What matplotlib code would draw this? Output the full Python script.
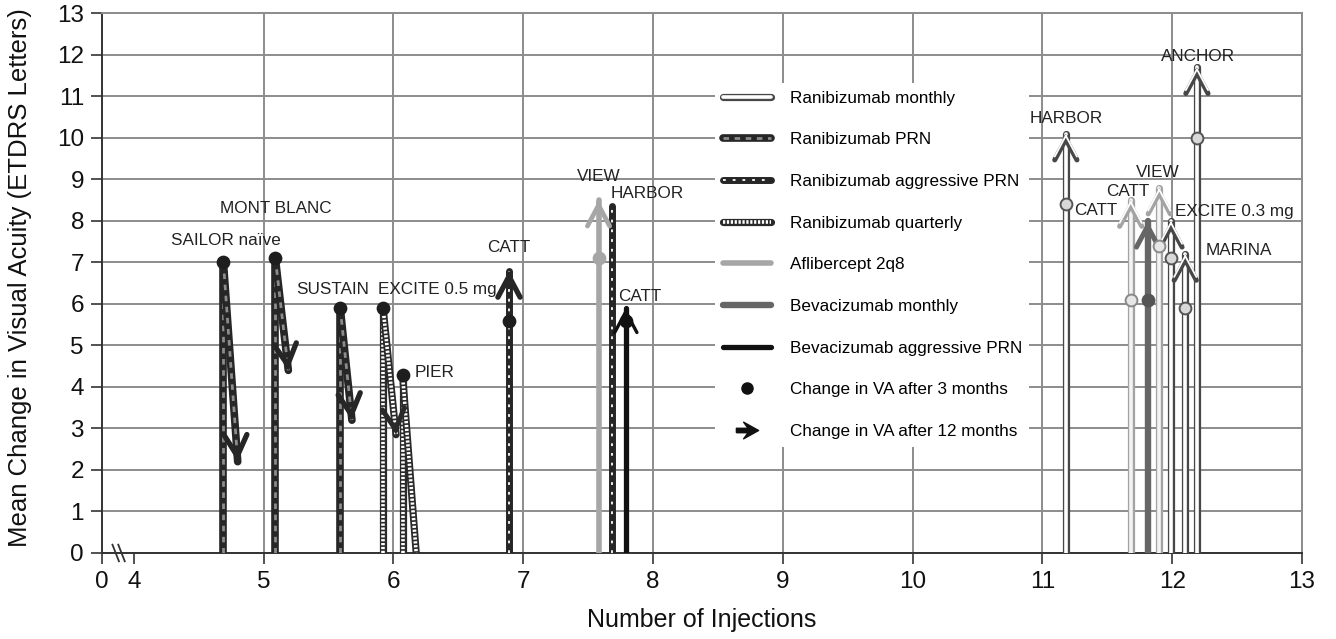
import matplotlib
matplotlib.use('Agg')
import matplotlib.pyplot as plt
from matplotlib.lines import Line2D
from matplotlib.legend_handler import HandlerTuple
from matplotlib.path import Path

plt.rcParams['font.family'] = ['Liberation Sans', 'DejaVu Sans']
plt.rcParams['lines.scale_dashes'] = False

# ---- data ----
studies = ['SAILOR naïve', 'MONT BLANC', 'SUSTAIN', 'EXCITE 0.5 mg', 'PIER', 'CATT',
           'VIEW', 'HARBOR', 'CATT', 'HARBOR', 'CATT', 'CATT', 'VIEW', 'EXCITE 0.3 mg',
           'MARINA', 'ANCHOR']
inj_3m = [4.69, 5.09, 5.59, 5.92, 6.07, 6.89, 7.58, 7.68, 7.79,
          11.18, 11.68, 11.81, 11.90, 11.99, 12.10, 12.19]
inj_12m = [4.80, 5.19, 5.68, 6.02, 6.18, 6.89, 7.58, 7.68, 7.79,
           11.18, 11.68, 11.81, 11.90, 11.99, 12.10, 12.19]
va_3m = [7.0, 7.1, 5.9, 5.9, 4.3, 5.6, 7.1, None, 5.6,
         8.4, 6.1, 6.1, 7.4, 7.1, 5.9, 10.0]
va_12m = [2.2, 4.4, 3.2, 2.85, -0.2, 6.8, 8.5, 8.35, 5.9,
          10.1, 8.5, 8.0, 8.8, 8.0, 7.2, 11.7]
regimen = ['prn', 'prn', 'prn', 'quarterly', 'quarterly', 'aggr', 'afl', 'aggr', 'bev_aggr',
           'monthly', 'monthly_light', 'bev_monthly', 'monthly_light', 'monthly', 'monthly', 'monthly']

# label placement (x, y, ha) in data units
label_pos = [(4.71, 7.54, 'center'), (5.09, 8.31, 'center'), (5.53, 6.36, 'center'),
             (5.88, 6.36, 'left'), (6.16, 4.34, 'left'), (6.89, 7.37, 'center'),
             (7.58, 9.08, 'center'), (7.67, 8.65, 'left'), (7.90, 6.17, 'center'),
             (11.18, 10.46, 'center'), (11.58, 8.24, 'right'), (11.66, 8.72, 'center'),
             (11.89, 9.16, 'center'), (12.02, 8.22, 'left'), (12.26, 7.30, 'left'),
             (12.20, 11.95, 'center')]

legend_keys = ['monthly', 'prn', 'aggr', 'quarterly', 'afl', 'bev_monthly', 'bev_aggr']
legend_names = ['Ranibizumab monthly', 'Ranibizumab PRN', 'Ranibizumab aggressive PRN',
                'Ranibizumab quarterly', 'Aflibercept 2q8', 'Bevacizumab monthly',
                'Bevacizumab aggressive PRN']

x_ticks = [3.754, 4, 5, 6, 7, 8, 9, 10, 11, 12, 13]
x_ticklabels = ['0', '4', '5', '6', '7', '8', '9', '10', '11', '12', '13']

# line layers: (colour, width, dashes), arrow head layers: (colour, width), dot (face, edge)
STYLES = {
    'monthly': dict(layers=[('#474747', 5.2, None), ('white', 2.6, None)],
                    head=[('#474747', 3.6), ('white', 1.3)], dot=('#d8d8d8', '#555555')),
    'monthly_light': dict(layers=[('#a3a3a3', 5.2, None), ('#f4f4f4', 2.6, None)],
                          head=[('#a3a3a3', 3.6), ('white', 1.3)], dot=('#e6e6e6', '#8a8a8a')),
    'prn': dict(layers=[('#262626', 5.5, None), ('#8c8c8c', 2.0, (4, 4))],
                head=[('#262626', 3.8)], dot=('#1e1e1e', '#1e1e1e')),
    'aggr': dict(layers=[('#262626', 5.0, None), ('white', 1.3, (2, 5))],
                 head=[('#262626', 3.8)], dot=('#1e1e1e', '#1e1e1e')),
    'quarterly': dict(layers=[('#2a2a2a', 5.2, None), ('white', 2.6, (1.6, 1.2))],
                      head=[('#2a2a2a', 3.6)], dot=('#1e1e1e', '#1e1e1e')),
    'afl': dict(layers=[('#a6a6a6', 4.0, None)], head=[('#a6a6a6', 3.4)],
                dot=('#a6a6a6', '#a6a6a6')),
    'bev_monthly': dict(layers=[('#666666', 4.6, None)], head=[('#666666', 3.6)],
                        dot=('#555555', '#555555')),
    'bev_aggr': dict(layers=[('#111111', 3.8, None)], head=[('#111111', 2.4)],
                     dot=('#111111', '#111111')),
}


def draw_seg(ax, xs, ys, key):
    for col, lw, dash in STYLES[key]['layers']:
        ln, = ax.plot(xs, ys, color=col, lw=lw, solid_capstyle='round', zorder=3)
        if dash is not None:
            ln.set_dashes(dash)
            ln.set_dash_capstyle('butt')


def draw_head(ax, x0, y0, x1, y1, key):
    tx = x0 + 0.97 * (x1 - x0)
    ty = y0 + 0.97 * (y1 - y0)
    for col, lw in STYLES[key]['head']:
        ax.annotate('', xy=(x1, y1), xytext=(tx, ty), zorder=4,
                    arrowprops=dict(arrowstyle='->,head_length=0.75,head_width=0.4',
                                    color=col, lw=lw, mutation_scale=20,
                                    shrinkA=0, shrinkB=0, capstyle='round',
                                    joinstyle='miter'))


fig, ax = plt.subplots(figsize=(13.36, 6.39), dpi=100)
fig.subplots_adjust(left=0.0763, right=0.9746, top=0.979, bottom=0.1346)

for i in range(len(studies)):
    key = regimen[i]
    top = va_3m[i] if va_3m[i] is not None else va_12m[i]
    x0 = inj_3m[i]
    draw_seg(ax, [x0, x0], [0, top], key)
    if va_3m[i] is not None and (inj_12m[i] != x0 or va_12m[i] != top):
        draw_seg(ax, [x0, inj_12m[i]], [top, va_12m[i]], key)
    draw_head(ax, x0, top, inj_12m[i], va_12m[i], key)
    if va_3m[i] is not None:
        fc, ec = STYLES[key]['dot']
        ax.plot(x0, va_3m[i], 'o', ms=8.5, mfc=fc, mec=ec, mew=1.4, zorder=5)
    lx, ly, ha = label_pos[i]
    ax.text(lx, ly, studies[i], ha=ha, va='center', fontsize=12.3, color='#222222', zorder=6)

# axis break mark
for off in (0.0, 0.045):
    ax.plot([3.835 + off, 3.885 + off], [0.2, -0.2], color='#333333', lw=1.3,
            clip_on=False, zorder=6)

# legend
handles = []
for key in legend_keys:
    parts = []
    for col, lw, dash in STYLES[key]['layers']:
        h = Line2D([], [], color=col, lw=lw, solid_capstyle='round')
        if dash is not None:
            h.set_dashes(dash)
        parts.append(h)
    handles.append(tuple(parts))
arrow_marker = Path([(-1, -0.2), (0.05, -0.2), (-0.35, -0.75), (1, 0), (-0.35, 0.75),
                     (0.05, 0.2), (-1, 0.2), (-1, -0.2)])
handles.append(Line2D([], [], ls='', marker='o', color='#111111', ms=8))
handles.append(Line2D([], [], ls='', marker=arrow_marker, color='#111111', ms=16))
labels = legend_names + ['Change in VA after 3 months', 'Change in VA after 12 months']

leg = ax.legend(handles, labels, handler_map={tuple: HandlerTuple(ndivide=1, pad=0)},
                loc='upper left', bbox_to_anchor=(0.511, 0.871), frameon=True,
                framealpha=1, edgecolor='none', facecolor='white', fontsize=12.3,
                handlelength=2.8, handletextpad=1.1, labelspacing=1.56,
                borderpad=0.45, borderaxespad=0)
leg.get_frame().set_boxstyle('square', pad=0)
leg.set_zorder(2.5)

# axes
ax.set_xlim(3.754, 13)
ax.set_ylim(0, 13)
ax.set_xticks(x_ticks)
ax.set_xticklabels(x_ticklabels)
ax.set_yticks(range(0, 14))
ax.tick_params(axis='both', labelsize=17.5, length=8, width=1.2, color='#333333',
               labelcolor='#111111', pad=5)
ax.set_axisbelow(True)
ax.grid(True, color='#8c8c8c', lw=1.4)
ax.xaxis.get_gridlines()[0].set_visible(False)
ax.xaxis.get_gridlines()[1].set_visible(False)
for side in ('top', 'right'):
    ax.spines[side].set_color('#8c8c8c')
    ax.spines[side].set_linewidth(1.4)
for side in ('left', 'bottom'):
    ax.spines[side].set_color('#333333')
    ax.spines[side].set_linewidth(1.4)

ax.set_xlabel('Number of Injections', fontsize=18, labelpad=11, color='#111111')
ax.set_ylabel('Mean Change in Visual Acuity (ETDRS Letters)', fontsize=18.5,
              color='#111111')
ax.yaxis.set_label_coords(-0.058, 0.511)

fig.savefig('out.png', dpi=100)
